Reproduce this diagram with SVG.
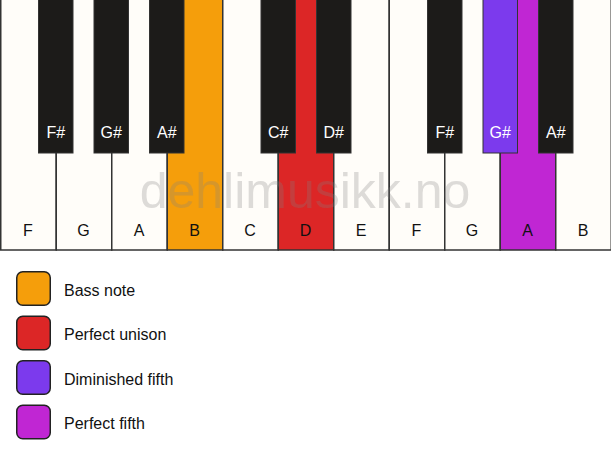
<svg xmlns="http://www.w3.org/2000/svg" width="611" height="461" viewBox="0 0 611 461">
<style>
.w{fill:#fffdf9;stroke:#333;stroke-width:1.5}
.b{fill:#1c1b19;stroke:#333;stroke-width:1}
.lw{font-family:"Liberation Sans",Arial,sans-serif;font-size:16px;fill:#111;text-anchor:middle}
.lb{font-family:"Liberation Sans",Arial,sans-serif;font-size:16px;fill:#fff;text-anchor:middle}
.lg{font-family:"Liberation Sans",Arial,sans-serif;font-size:16px;fill:#111}
.sw{stroke:#222;stroke-width:1.5}
.wm{font-family:"Liberation Sans",Arial,sans-serif;font-size:50px;fill:#808080;fill-opacity:0.27;text-anchor:middle}
</style>
<rect width="611" height="461" fill="#ffffff"/>
<g id="white-keys">
<g id="key-F1"><rect class="w" x="0.75" y="-2" width="55.5" height="252"/><text class="lw" x="28" y="236">F</text></g>
<g id="key-G1"><rect class="w" x="56.25" y="-2" width="55.5" height="252"/><text class="lw" x="83.5" y="236">G</text></g>
<g id="key-A1"><rect class="w" x="111.75" y="-2" width="55.5" height="252"/><text class="lw" x="139" y="236">A</text></g>
<g id="key-B1"><rect class="w" x="167.25" y="-2" width="55.5" height="252" style="fill:#f59e0b"/><text class="lw" x="194.5" y="236">B</text></g>
<g id="key-C"><rect class="w" x="222.75" y="-2" width="55.5" height="252"/><text class="lw" x="250" y="236">C</text></g>
<g id="key-D"><rect class="w" x="278.25" y="-2" width="55.5" height="252" style="fill:#dc2626"/><text class="lw" x="305.5" y="236">D</text></g>
<g id="key-E"><rect class="w" x="333.75" y="-2" width="55.5" height="252"/><text class="lw" x="361" y="236">E</text></g>
<g id="key-F2"><rect class="w" x="389.25" y="-2" width="55.5" height="252"/><text class="lw" x="416.5" y="236">F</text></g>
<g id="key-G2"><rect class="w" x="444.75" y="-2" width="55.5" height="252"/><text class="lw" x="472" y="236">G</text></g>
<g id="key-A2"><rect class="w" x="500.25" y="-2" width="55.5" height="252" style="fill:#c026d3"/><text class="lw" x="527.5" y="236">A</text></g>
<g id="key-B2"><rect class="w" x="555.75" y="-2" width="55.5" height="252"/><text class="lw" x="583" y="236">B</text></g>
</g>
<text class="wm" x="305" y="208">dehlimusikk.no</text>
<g id="black-keys">
<g id="key-Fs1"><rect class="b" x="38.5" y="-2" width="34.5" height="155"/><text class="lb" x="55.75" y="138">F#</text></g>
<g id="key-Gs1"><rect class="b" x="94" y="-2" width="34.5" height="155"/><text class="lb" x="111.25" y="138">G#</text></g>
<g id="key-As1"><rect class="b" x="149.5" y="-2" width="34.5" height="155"/><text class="lb" x="166.75" y="138">A#</text></g>
<g id="key-Cs"><rect class="b" x="261" y="-2" width="34.5" height="155"/><text class="lb" x="278.25" y="138">C#</text></g>
<g id="key-Ds"><rect class="b" x="316.5" y="-2" width="34.5" height="155"/><text class="lb" x="333.75" y="138">D#</text></g>
<g id="key-Fs2"><rect class="b" x="427.5" y="-2" width="34.5" height="155"/><text class="lb" x="444.75" y="138">F#</text></g>
<g id="key-Gs2"><rect class="b" x="483" y="-2" width="34.5" height="155" style="fill:#7c3aed"/><text class="lb" x="500.25" y="138">G#</text></g>
<g id="key-As2"><rect class="b" x="538.5" y="-2" width="34.5" height="155"/><text class="lb" x="555.75" y="138">A#</text></g>
</g>
<g id="legend">
<g id="legend-bass"><rect class="sw" x="16.75" y="271.75" width="33.5" height="33.5" rx="6" fill="#f59e0b"/><text class="lg" x="64" y="295.5">Bass note</text></g>
<g id="legend-unison"><rect class="sw" x="16.75" y="316.25" width="33.5" height="33.5" rx="6" fill="#dc2626"/><text class="lg" x="64" y="340">Perfect unison</text></g>
<g id="legend-dim5"><rect class="sw" x="16.75" y="360.75" width="33.5" height="33.5" rx="6" fill="#7c3aed"/><text class="lg" x="64" y="384.5">Diminished fifth</text></g>
<g id="legend-p5"><rect class="sw" x="16.75" y="405.25" width="33.5" height="33.5" rx="6" fill="#c026d3"/><text class="lg" x="64" y="429">Perfect fifth</text></g>
</g>
</svg>
